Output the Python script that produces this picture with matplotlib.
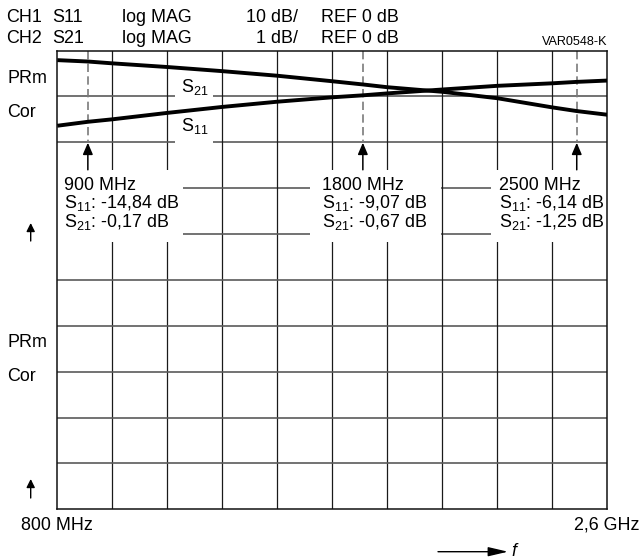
import matplotlib
matplotlib.use("Agg")
import matplotlib.pyplot as plt
from matplotlib.patches import Rectangle

plt.rcParams["font.family"] = ["Liberation Sans", "DejaVu Sans"]
plt.rcParams["mathtext.fontset"] = "custom"
plt.rcParams["mathtext.rm"] = "Liberation Sans"
plt.rcParams["mathtext.it"] = "Liberation Sans:italic"

# sweep 800 MHz .. 2.6 GHz, 10 divisions
F_START, F_STOP = 800, 2600
N_DIV = 10

# traces (MHz, dB)
FREQ = [800, 900, 980, 1160, 1340, 1520, 1700, 1800, 1880, 2060, 2240, 2420, 2500, 2600]
S11_DB = [-15.7, -14.84, -14.3, -12.9, -11.6, -10.46, -9.5, -9.07, -8.65, -7.8, -7.0, -6.45, -6.14, -5.85]
S21_DB = [-0.14, -0.17, -0.21, -0.29, -0.38, -0.48, -0.60, -0.67, -0.73, -0.83, -0.97, -1.17, -1.25, -1.33]

# markers
MARK_F = [900, 1800, 2500]
MARK_S11 = [-14.84, -9.07, -6.14]
MARK_S21 = [-0.17, -0.67, -1.25]

S11_SCALE, S21_SCALE = 10, 1     # dB/div
REF_OFF = 0.07                   # reference line position below top, div

W, H = 642, 560
FS = 12.9


def fx(px):
    return px / W


def fy(py):
    return 1 - py / H


fig = plt.figure(figsize=(W / 100, H / 100), dpi=100)
ax = fig.add_axes([fx(57.3), fy(509.3), (607.3 - 57.3) / W, (509.3 - 50.5) / H])
ax.set_xlim(F_START, F_STOP)
ax.set_ylim(N_DIV, 0)
ax.set_xticks([]); ax.set_yticks([])
for s in ax.spines.values():
    s.set_linewidth(1.1); s.set_color("#111111"); s.set_zorder(5)

step = (F_STOP - F_START) / N_DIV
for i in range(1, N_DIV):
    ax.axvline(F_START + i * step, color="#1a1a1a", lw=0.9, zorder=1)
    ax.axhline(i, color="#5a5a5a", lw=1.2, zorder=1)

# blank areas behind the marker readouts and trace labels
def blank(f0, f1, d0, d1):
    ax.add_patch(Rectangle((f0, d0), f1 - f0, d1 - d0, facecolor="white",
                           edgecolor="none", zorder=2))

blank(F_START, 1211, 2.6, 4.17)
blank(1626, 2057, 2.6, 4.17)
blank(2221, F_STOP, 2.6, 4.17)
blank(1185, 1311, 0.85, 1.15)
blank(1185, 1311, 1.85, 2.15)

# marker lines and arrows
for f in MARK_F:
    ax.plot([f, f], [0, 2.0], color="#7a7a7a", lw=1.2, ls=(0, (5, 2.6)), zorder=3)
    ax.annotate("", xy=(f, 2.01), xytext=(f, 2.6),
                arrowprops=dict(arrowstyle="-|>,head_length=0.7,head_width=0.3",
                                color="black", lw=1.1, shrinkA=0, shrinkB=0), zorder=4)

ax21 = ax.twinx()
ax21.set_ylim(-N_DIV * S21_SCALE + REF_OFF * S21_SCALE, REF_OFF * S21_SCALE)
ax11 = ax.twinx()
ax11.set_ylim(-N_DIV * S11_SCALE + REF_OFF * S11_SCALE, REF_OFF * S11_SCALE)
for a in (ax21, ax11):
    a.set_axis_off()
    a.set_xlim(F_START, F_STOP)
ax21.plot(FREQ, S21_DB, color="black", lw=2.8, solid_capstyle="butt")
ax11.plot(FREQ, S11_DB, color="black", lw=2.8, solid_capstyle="butt")

# header
def t(px, py, s, **kw):
    kw.setdefault("fontsize", FS)
    fig.text(fx(px), fy(py), s, va="baseline", **kw)

t(6, 21.5, "CH1"); t(52.4, 21.5, "S11"); t(121.6, 21.5, "log MAG")
t(298, 21.5, "10 dB/", ha="right"); t(320.6, 21.5, "REF 0 dB")
t(6, 43, "CH2"); t(52.4, 43, "S21"); t(121.6, 43, "log MAG")
t(298, 43, "1 dB/", ha="right"); t(320.6, 43, "REF 0 dB")
t(607, 45, "VAR0548-K", ha="right", fontsize=9.1)

# trace labels
t(181, 91.7, r"S$_{\mathrm{21}}$")
t(181, 131, r"S$_{\mathrm{11}}$")

# left side labels
for base in (82.7, 346.7):
    t(7.3, base, "PRm")
    t(7.3, base + 34.3, "Cor")
for y0, y1 in ((241, 223), (498, 479)):
    fig.add_artist(matplotlib.patches.FancyArrowPatch(
        (fx(30.7), fy(y0)), (fx(30.7), fy(y1)), transform=fig.transFigure,
        arrowstyle="-|>,head_length=5,head_width=2.5", color="black", lw=1.0,
        shrinkA=0, shrinkB=0))

# marker readouts
def dbfmt(v):
    return f"{v:.2f}".replace(".", ",")

for px, f, a, b in zip([63.5, 321.5, 499], MARK_F, MARK_S11, MARK_S21):
    t(px, 189.5, f"{f} MHz")
    t(px, 208.3, r"S$_{\mathrm{11}}$: " + dbfmt(a) + " dB")
    t(px, 227, r"S$_{\mathrm{21}}$: " + dbfmt(b) + " dB")

# frequency axis
t(21.3, 530, "800 MHz")
t(639, 530, "2,6 GHz", ha="right")
fig.add_artist(matplotlib.patches.FancyArrowPatch(
    (fx(438), fy(551.7)), (fx(508), fy(551.7)), transform=fig.transFigure,
    arrowstyle="-|>,head_length=12,head_width=2.8", color="black", lw=1.0,
    shrinkA=0, shrinkB=0))
t(511, 556, "f", style="italic")

fig.savefig("out.png", dpi=100)
